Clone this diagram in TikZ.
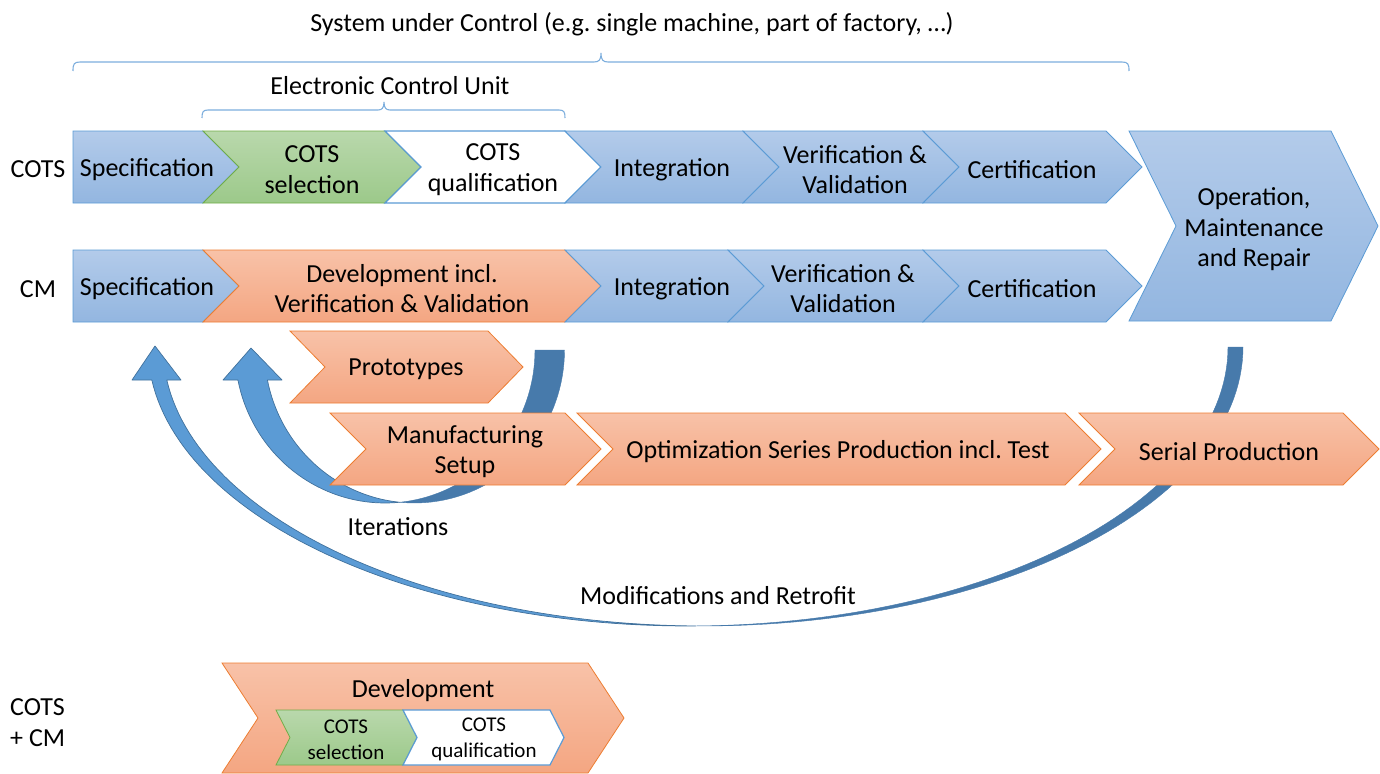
\documentclass[tikz,border=0pt]{standalone}
\usepackage{fontspec}
\setmainfont{Carlito}
\frenchspacing
\definecolor{bluetop}{HTML}{B3CBEA}
\definecolor{bluebot}{HTML}{93B6E0}
\definecolor{bordblue}{HTML}{5B9BD5}
\definecolor{greentop}{HTML}{B9D8AC}
\definecolor{greenbot}{HTML}{9CC98A}
\definecolor{bordgreen}{HTML}{70AD47}
\definecolor{orangetop}{HTML}{F8C2A8}
\definecolor{orangebot}{HTML}{F4A682}
\definecolor{bordorange}{HTML}{ED7D31}
\definecolor{arrowblue}{HTML}{5B9BD5}
\definecolor{arrowedge}{HTML}{41719C}
\definecolor{arrowback}{HTML}{477AAB}
\definecolor{braceblue}{HTML}{7DAEDD}
\newcommand\chevshape[6]{\path[#1] (#2,#4) -- (#3,#4) -- ({#3+#6},{(#4+#5)/2}) -- (#3,#5) -- (#2,#5) -- ({#2+#6},{(#4+#5)/2}) -- cycle;}
\newcommand\homeshape[6]{\path[#1] (#2,#4) -- (#3,#4) -- ({#3+#6},{(#4+#5)/2}) -- (#3,#5) -- (#2,#5) -- cycle;}
\tikzset{
  bluechev/.style={draw=bordblue, line width=0.8pt, line join=miter, top color=bluetop, bottom color=bluebot},
  greenchev/.style={draw=bordgreen, line width=0.8pt, top color=greentop, bottom color=greenbot},
  orangechev/.style={draw=bordorange, line width=0.8pt, top color=orangetop, bottom color=orangebot},
  whitechev/.style={draw=bordblue, line width=1.2pt, fill=white},
  lbl/.style={font=\fontsize{26}{30.5}\selectfont, align=center, inner sep=0pt, text=black, yshift=-2.5pt},
  smalllbl/.style={font=\fontsize{21}{26}\selectfont, align=center, inner sep=0pt, text=black, yshift=-1.5pt},
  bracestyle/.style={draw=braceblue, line width=1.1pt},
  arrowlight/.style={fill=arrowblue, draw=arrowedge, line width=0.7pt, line join=round},
  arrowdark/.style={fill=arrowback, draw=arrowback, line width=0.4pt},
}
\begin{document}
\begin{tikzpicture}[x=1pt, y=-1pt]
\useasboundingbox (0,0) rectangle (1380,773);

% ---------- braces and headings
\node[lbl] (title) at (632,22) {System under Control (e.g. single machine, part of factory, …)};
\draw[bracestyle] (73,71) .. controls (73,64) and (74,62) .. (80,62) -- (594,62)
  .. controls (599,62) and (601,60) .. (601,53) .. controls (601,60) and (603,62) .. (608,62)
  -- (1122,62) .. controls (1128,62) and (1129,64) .. (1129,71);
\node[lbl] (ecu) at (390,83) {Electronic Control Unit};
\draw[bracestyle] (202,118) .. controls (202,112) and (203,110) .. (208,110) -- (378,110)
  .. controls (382,110) and (384,108) .. (384,102) .. controls (384,108) and (386,110) .. (390,110)
  -- (559,110) .. controls (564,110) and (565,112) .. (565,118);

% ---------- curved arrows (behind)
% big arrow: Modifications and Retrofit
\path[arrowdark] plot[domain=89.204:0, samples=60, variable=\t] ({688+540*cos(\t)},{347+279*sin(\t)})
  -- (1243,347)
  -- plot[domain=0:90.796, samples=60, variable=\t] ({703+540*cos(\t)},{347+279*sin(\t)}) -- cycle;
\path[arrowlight] (132,380) -- (155,346) -- (181,380) -- (166.8,380)
  -- plot[domain=173.207:90.796, samples=60, variable=\t] ({703+540*cos(\t)},{347+279*sin(\t)})
  -- plot[domain=89.204:173.207, samples=60, variable=\t] ({688+540*cos(\t)},{347+279*sin(\t)})
  -- cycle;
% small arrow: Iterations
\path[arrowdark] plot[domain=84.36:0, samples=40, variable=\t] ({385+150*cos(\t)},{350+153*sin(\t)})
  -- (564.5,350)
  -- plot[domain=0:95.64, samples=40, variable=\t] ({414.5+150*cos(\t)},{350+153*sin(\t)}) -- cycle;
\path[arrowlight] (223,380) -- (251,348) -- (282,380) -- (267.4,380)
  -- plot[domain=168.69:95.64, samples=40, variable=\t] ({414.5+150*cos(\t)},{350+153*sin(\t)})
  -- plot[domain=84.36:168.69, samples=40, variable=\t] ({385+150*cos(\t)},{350+153*sin(\t)})
  -- cycle;
\node[lbl] (iter) at (398,524) {Iterations};
\node[lbl] (modif) at (718,593) {Modifications and Retrofit};

% ---------- COTS row
\node[lbl] (lcots) at (38,167) {COTS};
\homeshape{bluechev}{73}{203}{131}{203}{36}
\chevshape{greenchev}{203}{385}{131}{203}{36}
\chevshape{whitechev}{385}{565}{131}{203}{36}
\chevshape{bluechev}{565}{743}{131}{203}{36}
\chevshape{bluechev}{743}{923}{131}{203}{36}
\chevshape{bluechev}{923}{1106}{131}{203}{36}
\node[lbl] (specA) at (147,167) {Specification};
\node[lbl] (selA) at (312,167) {COTS\\selection};
\node[lbl] (qualA) at (493,167) {COTS\\qualification};
\node[lbl] (intA) at (672,167) {Integration};
\node[lbl] (vvA) at (855,167) {Verification \&\\Validation};
\node[lbl] (certA) at (1032,167) {Certification};

% ---------- CM row
\node[lbl] (lcm) at (38,287) {CM};
\homeshape{bluechev}{73}{203}{250}{322}{36}
\chevshape{orangechev}{203}{565}{250}{322}{36}
\chevshape{bluechev}{565}{728}{250}{322}{36}
\chevshape{bluechev}{728}{923}{250}{322}{36}
\chevshape{bluechev}{923}{1106}{250}{322}{36}
\node[lbl] (specB) at (147,286) {Specification};
\node[lbl] (devB) at (402,286) {Development incl.\\Verification \& Validation};
\node[lbl] (intB) at (672,286) {Integration};
\node[lbl] (vvB) at (843,286) {Verification \&\\Validation};
\node[lbl] (certB) at (1032,286) {Certification};

% ---------- Operation
\chevshape{bluechev}{1129}{1331}{131}{321}{47}
\node[lbl] (oper) at (1254,227) {Operation,\\Maintenance\\and Repair};

% ---------- production chain
\chevshape{orangechev}{290}{488}{331}{403}{35}
\node[lbl] (proto) at (406,367) {Prototypes};
\chevshape{orangechev}{330}{565}{413}{485}{36}
\chevshape{orangechev}{577}{1065}{413}{485}{36}
\chevshape{orangechev}{1079}{1343}{413}{485}{36}
\node[lbl] (manu) at (465,449) {Manufacturing\\Setup};
\node[lbl] (optim) at (838,449) {Optimization Series Production incl. Test};
\node[lbl] (serial) at (1229,449) {Serial Production};

% ---------- COTS + CM
\node[lbl, align=left, anchor=west] (lboth) at (10,720) {COTS\\+ CM};
\chevshape{orangechev}{222}{588}{663}{773}{36}
\node[lbl] (devC) at (423,688) {Development};
\chevshape{greenchev}{276}{403}{710}{765}{14}
\chevshape{whitechev}{403}{550}{710}{765}{14}
\node[smalllbl] (selC) at (346,738) {COTS\\selection};
\node[smalllbl] (qualC) at (484,738) {COTS\\qualification};
\end{tikzpicture}
\end{document}
